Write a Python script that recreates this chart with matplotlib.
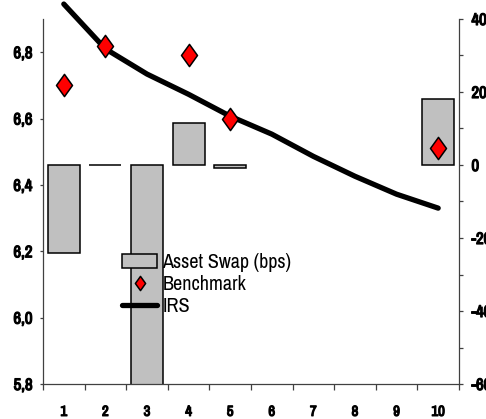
import matplotlib
matplotlib.use("Agg")
import matplotlib.pyplot as plt
import matplotlib.patheffects as pe
from matplotlib import font_manager
from matplotlib.path import Path
from matplotlib.patches import Patch
from matplotlib.lines import Line2D
from matplotlib.ticker import FixedLocator, MultipleLocator, FuncFormatter

# values
maturities = [1, 2, 3, 4, 5, 6, 7, 8, 9, 10]
asset_swap = [-24, 0, -70, 11.5, -0.8, None, None, None, None, 18]   # bps, right axis
benchmark = [6.70, 6.82, None, 6.79, 6.60, None, None, None, None, 6.51]
irs = [6.945, 6.81, 6.734, 6.673, 6.607, 6.553, 6.486, 6.426, 6.372, 6.33]
left_ticks = [5.8, 6.0, 6.2, 6.4, 6.6, 6.8]
right_ticks = [-60, -40, -20, 0, 20, 40]

# use a narrow sans if one is around, otherwise plain Liberation Sans
names = sorted({f.name for f in font_manager.fontManager.ttflist})
narrow = [n for n in names if 'Narrow' in n or 'Condensed' in n]
fam = narrow[:1] + ['Liberation Sans', 'DejaVu Sans']
plt.rcParams['font.family'] = fam
plt.rcParams['axes.unicode_minus'] = False
shrink = 1.0 if narrow else 0.88
# the narrow face has no bold, so fake it with a thin outline
fake_bold = [pe.withStroke(linewidth=0.9, foreground='black')]

# a slightly tall diamond, like the Excel marker
diamond = Path([(0, 1), (0.72, 0), (0, -1), (-0.72, 0), (0, 1)],
               [Path.MOVETO, Path.LINETO, Path.LINETO, Path.LINETO, Path.CLOSEPOLY])

fig = plt.figure(figsize=(4.86, 4.19), dpi=100)
ax = fig.add_axes([0.0885, 0.0835, 0.8559, 0.8712])
ax2 = ax.twinx()

# bars on the right (bps) axis, drawn underneath
bx = [m for m, v in zip(maturities, asset_swap) if v is not None]
bv = [v for v in asset_swap if v is not None]
ax2.bar(bx, bv, width=0.77, color='#c0c0c0', edgecolor='black', linewidth=1.1)
ax2.set_ylim(-60, 40)

# IRS curve and benchmark yields on the left axis, on top
ax.set_zorder(ax2.get_zorder() + 1)
ax.patch.set_visible(False)
ax.plot(maturities, irs, color='black', linewidth=3.8, solid_capstyle='round',
        clip_on=False, zorder=3)
bm = [float('nan') if b is None else b for b in benchmark]
ax.plot(maturities, bm, linestyle='none', marker=diamond, markersize=16,
        markerfacecolor='red', markeredgecolor='black', markeredgewidth=1.1, zorder=4)
ax.set_ylim(5.8, 6.9)
ax.set_xlim(0.5, 10.5)

# spines
for s in ['top', 'right']:
    ax.spines[s].set_visible(False)
for s in ['top', 'left', 'bottom']:
    ax2.spines[s].set_visible(False)
for sp in [ax.spines['left'], ax.spines['bottom'], ax2.spines['right']]:
    sp.set_color('#404040')
    sp.set_linewidth(0.9)

# ticks
ax.yaxis.set_major_locator(FixedLocator(left_ticks))
ax.yaxis.set_major_formatter(FuncFormatter(lambda v, p: f"{v:.1f}".replace('.', ',')))
ax.tick_params(axis='y', direction='out', length=2.5, width=0.9, color='#404040',
               pad=5, labelsize=12 * shrink)
ax.xaxis.set_major_locator(FixedLocator(maturities))
ax.xaxis.set_minor_locator(MultipleLocator(1, offset=0.5))
ax.tick_params(axis='x', which='major', length=0, pad=15, labelsize=10.5 * shrink)
ax.tick_params(axis='x', which='minor', direction='out', length=4, width=0.9, color='#404040')

ax2.yaxis.set_major_locator(FixedLocator(right_ticks))
ax2.yaxis.set_minor_locator(MultipleLocator(10))
ax2.tick_params(axis='y', which='both', direction='out', length=3, width=0.9,
                color='#404040', pad=6, labelsize=12 * shrink)

for lab in ax.get_yticklabels() + ax.get_xticklabels() + ax2.get_yticklabels():
    lab.set_fontweight('bold')
    if narrow:
        lab.set_path_effects(fake_bold)

# legend
handles = [
    Patch(facecolor='#c0c0c0', edgecolor='black', linewidth=1.1),
    Line2D([], [], linestyle='none', marker=diamond, markersize=16, markerfacecolor='red',
           markeredgecolor='black', markeredgewidth=1.1),
    Line2D([], [], color='black', linewidth=3.8, solid_capstyle='round'),
]
labels = ['Asset Swap (bps)', 'Benchmark', 'IRS']
leg_size = 14.5 * shrink
ax.legend(handles, labels, loc='upper left', bbox_to_anchor=(122 / 486, 1 - 253 / 419),
          bbox_transform=fig.transFigure, frameon=False, borderpad=0, borderaxespad=0,
          handlelength=1.76 * 14.5 / leg_size, handletextpad=0.25 * 14.5 / leg_size,
          labelspacing=0.15, markerscale=0.64, prop={'family': fam, 'size': leg_size})

fig.savefig('out.png', dpi=100)
